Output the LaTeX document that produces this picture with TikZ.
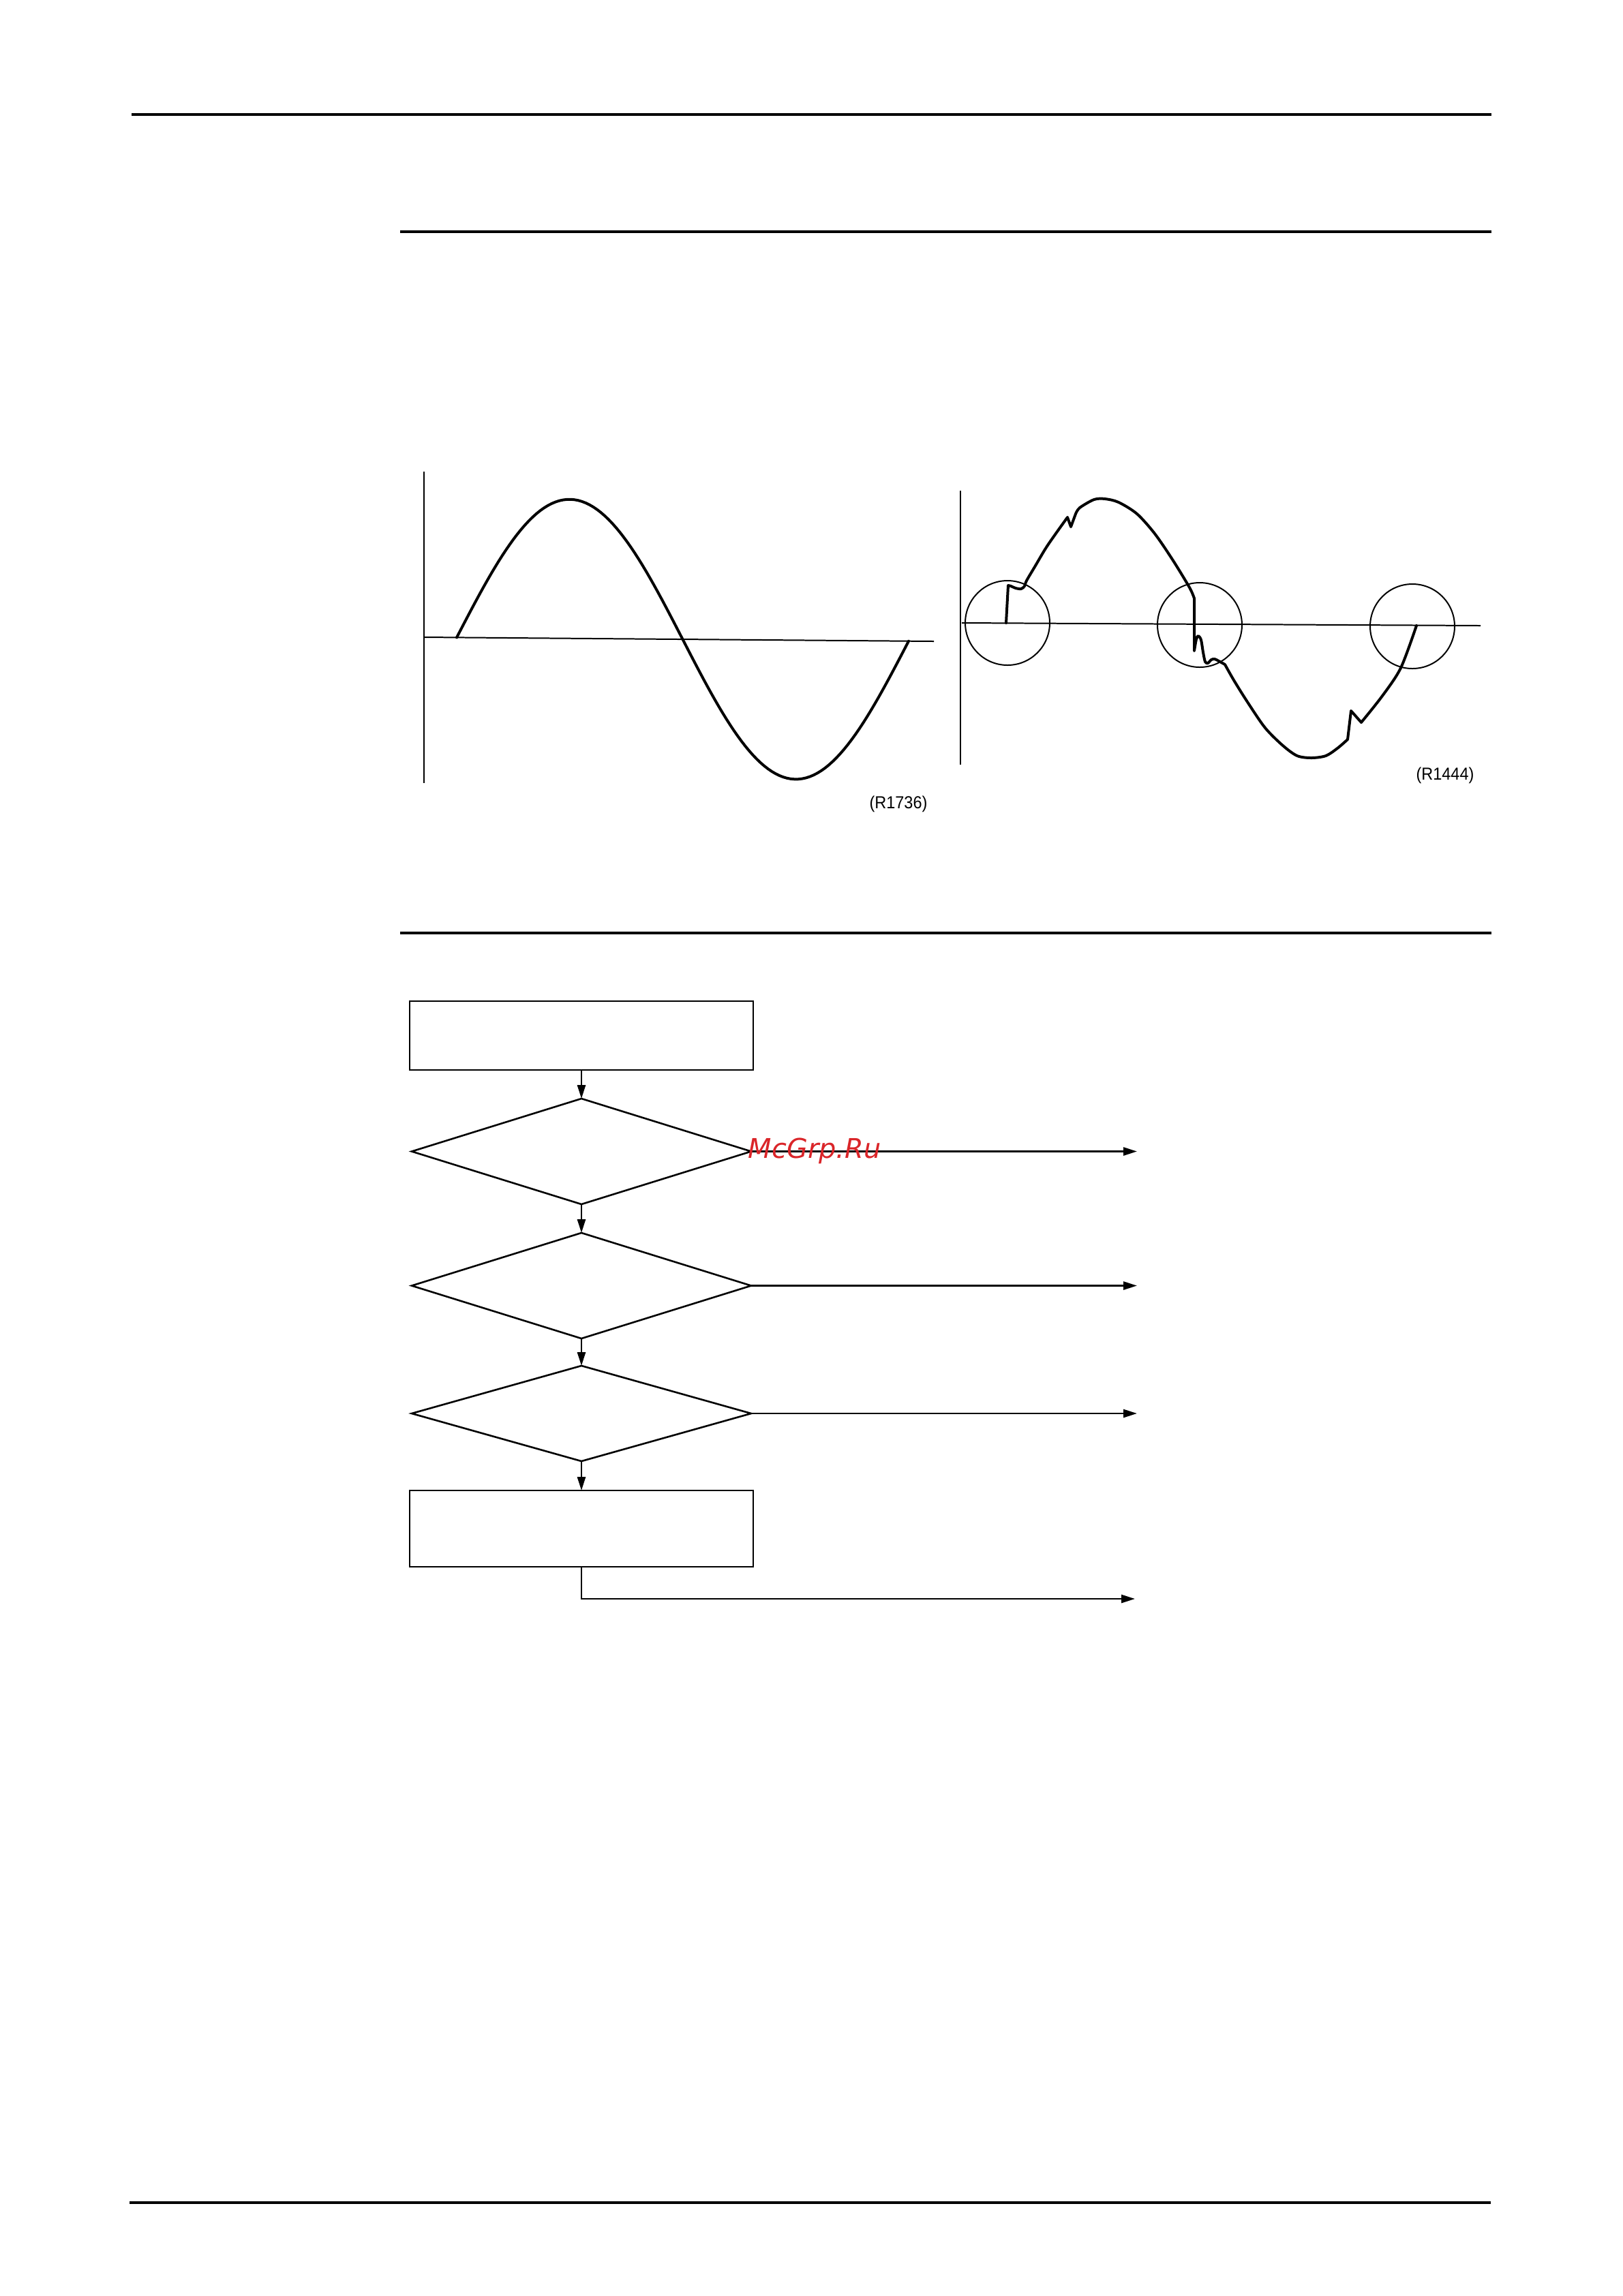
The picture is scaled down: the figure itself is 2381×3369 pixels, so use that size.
\documentclass[tikz,border=0pt]{standalone}
\usepackage{fontspec}
\newfontfamily\labelfont[FakeStretch=0.92]{Liberation Sans}
\newfontfamily\markfont{DejaVu Sans}
\usetikzlibrary{arrows.meta,shapes.geometric}
\definecolor{markred}{RGB}{218,37,41}

\begin{document}
\begin{tikzpicture}[x=0.08819mm,y=-0.08819mm]
    \tikzstyle{rule}=[line width=1pt]
    \tikzstyle{axis}=[line width=0.5pt]
    \tikzstyle{wave}=[line width=1pt,line join=round,line cap=round]
    \tikzstyle{ring}=[line width=0.5pt]
    \tikzstyle{stepbox}=[draw,line width=0.65pt,rectangle,minimum width=44.45mm,inner sep=0,outer sep=0]
    \tikzstyle{decision}=[draw,line width=0.65pt,diamond,minimum width=43.92mm,inner sep=0,outer sep=0]
    \tikzstyle{flow}=[line width=0.65pt,-{Triangle[length=1.76mm,width=1.06mm]}]
    \tikzstyle{tag}=[inner sep=0,font=\labelfont\fontsize{6.4}{7.5}\selectfont]
    \useasboundingbox (0,0) rectangle (2381,3369);
    % Page rules
    \draw[rule] (193,168) -- (2188,168);
    \draw[rule] (587,340) -- (2188,340);
    \draw[rule] (587,1369) -- (2188,1369);
    \draw[rule] (190,3232) -- (2187,3232);
    % Clean sine
    \draw[axis] (622,692) -- (622,1149);
    \draw[axis] (622,935) -- (1370,941);
    \draw[wave] plot[domain=0:360,samples=120] ({670+\x/360*663},{935.4+0.008*\x/360*663-204*sin(\x)});
    \node[tag] (tagA) at (1318,1180) {(R1736)};
    % Distorted sine
    \draw[axis] (1409,720) -- (1409,1122);
    \draw[axis] (1411,914) -- (2172,918);
    \draw[ring] (1478,914) circle (62);
    \draw[ring] (1760,917) circle (62);
    \draw[ring] (2072,919) circle (62);
    \draw[wave] (1476,914) -- (1479,859)
        -- plot[smooth] coordinates {(1479,859) (1483,860) (1490,863) (1498,864) (1503,860) (1506,852) (1519,830) (1537,800) (1566,759)}
        -- (1571,773)
        -- plot[smooth] coordinates {(1578,754) (1584,745) (1605,733) (1621,732) (1641,737) (1668,754) (1694,783) (1720,821) (1745,862) (1752,878)}
        -- (1752,955)
        -- plot[smooth] coordinates {(1752,955) (1755,938) (1758,933) (1762,939) (1765,957) (1768,971) (1772,973) (1777,968) (1782,967) (1788,970) (1797,975)}
        -- plot[smooth] coordinates {(1797,975) (1810,998) (1830,1030) (1856,1068) (1882,1094) (1903,1109) (1924,1112) (1945,1109) (1962,1098) (1977,1085)}
        -- (1982,1043) -- (1997,1060)
        -- plot[smooth] coordinates {(1997,1060) (2028,1021) (2055,980) (2078,918)};
    \node[tag] (tagB) at (2120,1138) {(R1444)};
    % Flow chart
    \node[stepbox,minimum height=8.91mm] (check) at (853,1519.5) {};
    \node[decision,minimum height=13.67mm] (ask1) at (853,1689.5) {};
    \node[decision,minimum height=13.67mm] (ask2) at (853,1886.5) {};
    \node[decision,minimum height=12.35mm] (ask3) at (853,2074) {};
    \node[stepbox,minimum height=9.88mm] (fix) at (853,2243) {};
    \coordinate (out1) at (1668,1689.5);
    \coordinate (out2) at (1668,1886.5);
    \coordinate (out3) at (1668,2074);
    \coordinate (out4) at (1665,2346);
    \draw[flow] (check.south) -- (ask1.north);
    \draw[flow] (ask1.south) -- (ask2.north);
    \draw[flow] (ask2.south) -- (ask3.north);
    \draw[flow] (ask3.south) -- (fix.north);
    \draw[flow] (ask1.east) -- (out1);
    \draw[flow] (ask2.east) -- (out2);
    \draw[flow] (ask3.east) -- (out3);
    \draw[flow] (fix.south) |- (out4);
    % Watermark
    \node[anchor=base west,inner sep=0,text=markred,font=\markfont\itshape\fontsize{10}{12}\selectfont] (mark) at (1097,1699) {McGrp.Ru};
\end{tikzpicture}
\end{document}
